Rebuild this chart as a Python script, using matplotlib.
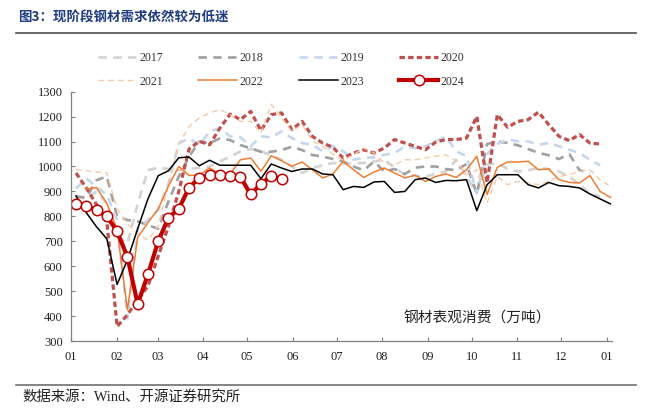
import matplotlib
matplotlib.use('Agg')
import matplotlib.pyplot as plt
from matplotlib.lines import Line2D
import numpy as np

plt.rcParams['font.family'] = ['Liberation Serif', 'Noto Sans CJK SC']

# x axis: day of year, weekly points
month_days = [0, 31, 59, 90, 120, 151, 181, 212, 243, 273, 304, 334, 365]
month_labels = ['01', '02', '03', '04', '05', '06', '07', '08', '09', '10', '11', '12', '01']
first_day = 3.4

years = ['2017', '2018', '2019', '2020', '2021', '2022', '2023', '2024']

v2017 = [880, 870, 900, 850, 720, 690, 850, 985, 995, 990, 985, 990, 995,
         1000, 1020, 1040, 1060, 1070, 1061, 1045, 1027, 1000, 974, 994, 1005, 1014, 1010,
         1014, 1014, 1020, 1027, 995, 967, 963, 960, 970, 980, 1027, 960, 895,
         1007, 1014, 990, 980, 985, 994, 990, 980, 960, 927, 890, 880]
v2018 = [880, 875, 945, 960, 800, 785, 780, 765, 750, 860, 960, 1040, 1100,
         1093, 1113, 1106, 1086, 1073, 1059, 1059, 1066, 1079, 1066, 1046, 1040, 1030, 1020,
         1000, 985, 1020, 980, 990, 970, 995, 1000, 1000, 990, 985, 1010, 890,
         1090, 1100, 1095, 1085, 1070, 1055, 1045, 1030, 1050, 985, 975]
v2019 = [912, 952, 919, 886, 785, 390, 752, 785, 825, 932, 1093, 1113, 1086,
         1141, 1153, 1121, 1117, 1081, 1121, 1117, 1141, 1114, 1094, 1087, 1061, 1081, 1061,
         1027, 1034, 1037, 1047, 1054, 1081, 1074, 1081, 1101, 1121, 1061, 1041, 892,
         1050, 1090, 1108, 1101, 1101, 1087, 1094, 1081, 1067, 1054, 1027, 1005]
v2020 = [974, 914, 847, 780, 358, 405, 465, 520, 640, 760, 900, 1070, 1101,
         1087, 1154, 1210, 1188, 1221, 1144, 1208, 1215, 1148, 1181, 1121, 1094, 1077, 1034,
         1054, 1067, 1054, 1074, 1108, 1094, 1081, 1067, 1098, 1108, 1108, 1114, 1201,
         935, 1208, 1157, 1181, 1188, 1218, 1168, 1121, 1104, 1128, 1094, 1090]
v2021 = [987, 983, 978, 974, 830, 770, 730, 705, 760, 930, 1090, 1160, 1195,
         1215, 1228, 1208, 1181, 1181, 1134, 1250, 1194, 1141, 1168, 1101, 1081, 1050, 1025,
         1047, 1074, 1054, 1014, 1007, 1027, 1027, 1034, 1041, 1047, 1021, 967, 987,
         854, 960, 927, 940, 934, 927, 940, 960, 967, 980, 987, 947, 920]
v2022 = [np.nan, 910, 915, 852, 750, 425, 715, 775, 830, 922, 1000, 964, 966,
         994, 970, 970, 1027, 1034, 981, 1043, 1023, 1001, 1018, 987, 954, 970, 1021,
         987, 956, 978, 994, 974, 954, 965, 940, 960, 970, 956, 987, 1041,
         887, 997, 1018, 1018, 1021, 987, 990, 947, 936, 934, 964, 900, 876]
v2023 = [882, 815, 758, 710, 527, 625, 750, 870, 963, 983, 1035, 1038, 1003,
         1025, 1005, 1005, 1005, 1005, 951, 1010, 994, 980, 990, 990, 970, 967, 907,
         920, 916, 938, 940, 896, 900, 947, 954, 936, 944, 943, 947, 823,
         927, 967, 967, 967, 927, 914, 936, 923, 920, 914, 890, 870, 850]
v2024 = [850, 840, 825, 800, 740, 638, 448, 567, 700, 795, 830, 915, 955,
         966, 965, 961, 958, 888, 931, 961, 950]


def week_days(values):
    return first_day + 7 * np.arange(len(values))


def main():
    fig = plt.figure(figsize=(6.52, 4.09), dpi=100)
    ax = fig.add_axes([71 / 652, 1 - 341 / 409, 541 / 652, 249.3 / 409])

    series = [v2017, v2018, v2019, v2020, v2021, v2022, v2023, v2024]
    styles = [
        dict(color='#D3D3D3', lw=1.9, dashes=(3.2, 2.4)),
        dict(color='#A0A0A0', lw=1.9, dashes=(3.2, 2.4)),
        dict(color='#C5D7EE', lw=1.9, dashes=(3.2, 2.4)),
        dict(color='#C0504D', lw=2.3, dashes=(1.7, 1.0)),
        dict(color='#F8C8A4', lw=1.0, dashes=(4, 3)),
        dict(color='#ED7D31', lw=1.1),
        dict(color='black', lw=1.1),
        dict(color='#C00000', lw=3.0, marker='o', ms=7.5, mfc='white',
             mec='#C00000', mew=1.1),
    ]
    handles = []
    for name, vals, st in zip(years, series, styles):
        line, = ax.plot(week_days(vals), vals, label=name, **st)
        handles.append(line)

    ax.set_xlim(0, 368.5)
    ax.set_ylim(300, 1300)
    ax.set_yticks(range(300, 1301, 100))
    ax.set_xticks(month_days)
    ax.set_xticklabels(month_labels)
    ax.tick_params(direction='in', length=3, width=0.8, color='#808080',
                   labelsize=9, colors='#222222')
    ax.tick_params(axis='x', pad=7)
    ax.tick_params(axis='y', pad=6)
    for side in ['top', 'right']:
        ax.spines[side].set_visible(False)
    for side in ['left', 'bottom']:
        ax.spines[side].set_color('#808080')
        ax.spines[side].set_linewidth(0.9)

    ax.text(277, 390, '钢材表观消费（万吨）', ha='center', va='center',
            fontsize=10.6, family=['Noto Sans CJK SC'], color='#222222')

    # legend fills column by column, so interleave to get rows 2017-2020 / 2021-2024
    order = [0, 4, 1, 5, 2, 6, 3, 7]
    leg = fig.legend(handles=[handles[i] for i in order], loc='center', ncol=4,
                     bbox_to_anchor=(281 / 652, 1 - 70 / 409), frameon=False,
                     fontsize=8.5, handlelength=3.3, columnspacing=3.0,
                     labelspacing=0.95, handletextpad=0.2)
    for t in leg.get_texts():
        t.set_color('#333333')

    fig.text(18 / 652, 1 - 18 / 409, '图3：现阶段钢材需求依然较为低迷',
             ha='left', va='center', fontsize=9.7, fontweight='bold',
             family=['Noto Sans CJK SC'], color='#1F3B82')
    fig.add_artist(Line2D([16 / 652, 636 / 652], [1 - 32.5 / 409] * 2,
                          color='#505050', lw=1.2))
    fig.add_artist(Line2D([16 / 652, 636 / 652], [1 - 385 / 409] * 2,
                          color='#707070', lw=1.2))
    fig.text(22 / 652, 1 - 397 / 409, '数据来源：Wind、开源证券研究所',
             ha='left', va='center', fontsize=10.4, color='#222222')

    fig.savefig('out.png', dpi=100)


if __name__ == '__main__':
    main()
